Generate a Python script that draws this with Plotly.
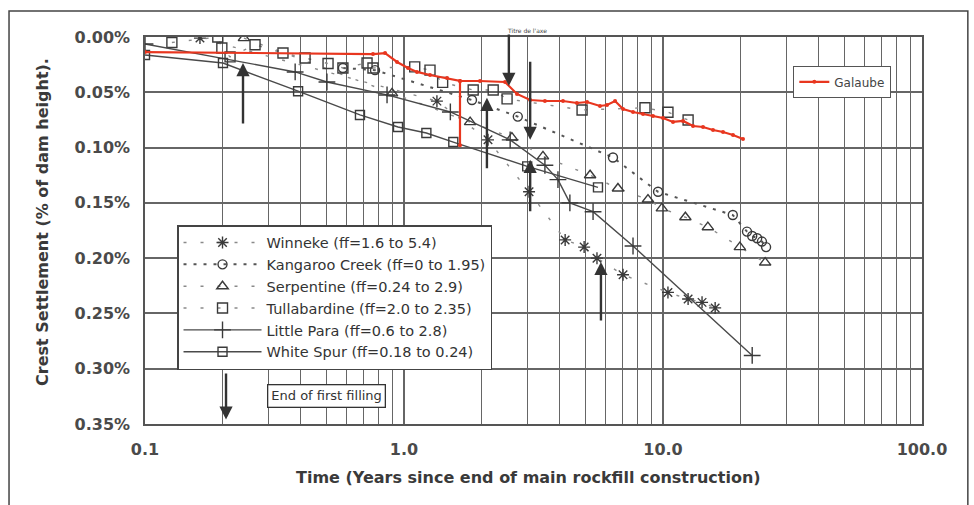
import numpy as np
import plotly.graph_objects as go

# ---------------- data (time in years, settlement in % of dam height) ----------------
galaube_t = [0.10, 0.759, 0.845, 0.940, 1.036, 1.122, 1.26, 1.466, 1.645, 1.645, 1.645, 1.965, 2.455,
             2.73, 3.07, 3.50, 4.11, 4.65, 5.09, 5.71, 6.08, 6.53, 7.01, 7.66, 8.37, 9.15, 10.0,
             10.93, 11.95, 13.06, 14.27, 15.6, 17.05, 18.63, 20.37]
galaube_s = [0.0136, 0.0154, 0.0145, 0.0226, 0.028, 0.0316, 0.0344, 0.0371, 0.0398, 0.098, 0.0398, 0.0398, 0.0407,
             0.0515, 0.057, 0.0579, 0.0579, 0.0597, 0.0588, 0.0624, 0.0615, 0.0579, 0.0651, 0.0678, 0.0696, 0.0714, 0.0732,
             0.0768, 0.0759, 0.0805, 0.0814, 0.0841, 0.0859, 0.0886, 0.0922]

winneke_t = [0.163, 1.34, 2.11, 3.04, 4.19, 4.96, 5.56, 7.01, 10.45, 12.5, 14.15, 15.9]
winneke_s = [0.001, 0.058, 0.093, 0.140, 0.1835, 0.190, 0.200, 0.215, 0.231, 0.237, 0.240, 0.245]

kangaroo_t = [0.581, 0.773, 1.83, 2.75, 6.41, 9.57, 18.6, 21.1, 22.1, 23.1, 24.1, 25.0]
kangaroo_s = [0.028, 0.030, 0.057, 0.072, 0.109, 0.140, 0.161, 0.176, 0.180, 0.182, 0.185, 0.190]

serpentine_t = [0.241, 0.899, 1.80, 2.61, 3.44, 5.23, 6.70, 8.75, 9.9, 12.2, 14.9, 19.8, 24.8]
serpentine_s = [0.001, 0.051, 0.077, 0.091, 0.108, 0.125, 0.137, 0.147, 0.155, 0.163, 0.172, 0.190, 0.204]

tulla_t = [0.127, 0.191, 0.198, 0.213, 0.266, 0.341, 0.415, 0.509, 0.581, 0.72, 0.759, 1.10, 1.26,
           1.41, 1.85, 2.21, 2.50, 4.87, 8.52, 10.45, 12.5]
tulla_s = [0.005, 0.000, 0.010, 0.018, 0.007, 0.0145, 0.019, 0.024, 0.028, 0.0235, 0.028, 0.027, 0.030,
           0.041, 0.048, 0.048, 0.056, 0.066, 0.064, 0.068, 0.075]

littlepara_t = [0.10, 0.38, 0.504, 0.86, 1.51, 2.57, 3.50, 3.93, 4.37, 5.37, 7.66, 22.1]
littlepara_s = [0.0063, 0.0316, 0.0407, 0.0524, 0.0678, 0.093, 0.116, 0.129, 0.150, 0.158, 0.189, 0.288]

whitespur_t = [0.10, 0.20, 0.39, 0.676, 0.948, 1.22, 1.55, 2.99, 5.61]
whitespur_s = [0.0163, 0.0235, 0.049, 0.0705, 0.0814, 0.0868, 0.095, 0.117, 0.136]

x_tickvals = [0.1, 1, 10, 100]
x_ticktext = ["0.1", "1.0", "10.0", "100.0"]
y_tickvals = [0.0, 0.05, 0.10, 0.15, 0.20, 0.25, 0.30, 0.35]
y_ticktext = ["0.00%", "0.05%", "0.10%", "0.15%", "0.20%", "0.25%", "0.30%", "0.35%"]

# ---------------- styling ----------------
FONT = "DejaVu Sans"
INK = "#3a3a3a"
GRID = "#666666"
RED = "#e8361f"

fig = go.Figure()

def add_series(name, t, s, symbol, size, dash, lcolor, lwidth=1.4):
    fig.add_trace(go.Scatter(
        x=t, y=s, name=name, mode="lines+markers",
        line=dict(color=lcolor, width=lwidth, dash=dash),
        marker=dict(symbol=symbol, size=size, color=INK, line=dict(color=INK, width=1.4)),
        legend="legend",
    ))

add_series("Winneke (ff=1.6 to 5.4)", winneke_t, winneke_s, "asterisk-open", 10, "3px,14px", "#8a8a8a")
add_series("Kangaroo Creek (ff=0 to 1.95)", kangaroo_t, kangaroo_s, "circle-open", 9, "3px,7px", "#555555", 2)
add_series("Serpentine (ff=0.24 to 2.9)", serpentine_t, serpentine_s, "triangle-up-open", 10, "3px,14px", "#8a8a8a")
add_series("Tullabardine (ff=2.0 to 2.35)", tulla_t, tulla_s, "square-open", 10, "3px,14px", "#8a8a8a")
add_series("Little Para (ff=0.6 to 2.8)", littlepara_t, littlepara_s, "cross-thin-open", 12, "solid", "#4a4a4a")
add_series("White Spur (ff=0.18 to 0.24)", whitespur_t, whitespur_s, "square-open", 9, "solid", "#4a4a4a")

fig.add_trace(go.Scatter(
    x=galaube_t, y=galaube_s, name="Galaube", mode="lines+markers",
    line=dict(color=RED, width=2.2),
    marker=dict(symbol="circle", size=4, color=RED),
    legend="legend2",
))

# ---------------- annotations ----------------
def arrow(xv, y_tip, y_tail):
    return dict(x=np.log10(xv), y=y_tip, ax=np.log10(xv), ay=y_tail,
                xref="x", yref="y", axref="x", ayref="y", text="",
                showarrow=True, arrowhead=2, arrowsize=1.1, arrowwidth=2.4, arrowcolor="#333333")

annotations = [
    arrow(0.239, 0.0235, 0.0796),
    arrow(0.2055, 0.346, 0.303),
    arrow(2.09, 0.055, 0.120),
    arrow(2.54, 0.0443, -0.0036),
    arrow(3.07, 0.093, 0.021),
    arrow(3.07, 0.111, 0.159),
    arrow(5.76, 0.2034, 0.2577),
    dict(x=np.log10(2.45), y=1.016, xref="x", yref="paper", text="Titre de l'axe",
         showarrow=False, xanchor="left", yanchor="middle",
         font=dict(family=FONT, size=6, color="#444")),
    dict(x=np.log10(0.504), y=0.3245, xref="x", yref="y", text="End of first filling",
         showarrow=False, bgcolor="white", bordercolor="#333", borderwidth=1.3, borderpad=3,
         font=dict(family=FONT, size=13, color="#333")),
    dict(x=0.493, y=-0.1395, xref="paper", yref="paper", xanchor="center", yanchor="middle",
         text="<b>Time (Years since end of main rockfill construction)</b>",
         showarrow=False, font=dict(family=FONT, size=16, color="#3a3a3a")),
    dict(x=-0.1313, y=0.522, xref="paper", yref="paper", textangle=-90,
         xanchor="center", yanchor="middle",
         text="<b>Crest Settlement (% of dam height).</b>",
         showarrow=False, font=dict(family=FONT, size=16, color="#3a3a3a")),
]

minor_vals = [m * d for d in (0.1, 1, 10) for m in range(2, 10)]

fig.update_layout(
    width=974, height=505,
    margin=dict(l=145, r=52, t=37, b=81),
    paper_bgcolor="white", plot_bgcolor="white",
    font=dict(family=FONT, color=INK),
    annotations=annotations,
    legend=dict(x=0.0412, y=0.514, xanchor="left", yanchor="top",
                bgcolor="white", bordercolor="#444", borderwidth=1.5,
                font=dict(family=FONT, size=14.5, color="#333"),
                itemwidth=78, tracegroupgap=0),
    legend2=dict(x=0.834, y=0.925, xanchor="left", yanchor="top",
                 bgcolor="white", bordercolor="#555", borderwidth=1.3,
                 font=dict(family=FONT, size=12, color="#444"), itemwidth=30),
    shapes=[dict(type="rect", xref="paper", yref="paper", x0=-0.175, x1=1.059, y0=-0.26, y1=1.067,
                 line=dict(color="#444", width=1.5))],
    showlegend=True,
)

fig.update_xaxes(
    type="log", range=[-1, 2],
    tickvals=x_tickvals, ticktext=x_ticktext,
    showgrid=True, gridcolor=GRID, gridwidth=1.5,
    minor=dict(tickvals=minor_vals, showgrid=True, gridcolor=GRID, gridwidth=1.3),
    showline=True, linecolor="#555", linewidth=1.5, mirror=True,
    ticks="", ticklabelstandoff=10, zeroline=False,
    tickfont=dict(family=FONT, size=16, color="#4a4a4a", weight="bold"),
)
fig.update_yaxes(
    range=[0.35, 0], tickvals=y_tickvals, ticktext=y_ticktext,
    showgrid=True, gridcolor=GRID, gridwidth=2,
    showline=True, linecolor="#555", linewidth=1.5, mirror=True,
    ticks="", ticklabelstandoff=10, zeroline=False,
    tickfont=dict(family=FONT, size=16, color="#4a4a4a", weight="bold"),
)

fig.write_html("out.html", config={"displayModeBar": False},
               post_script="document.body.style.margin='0';")
